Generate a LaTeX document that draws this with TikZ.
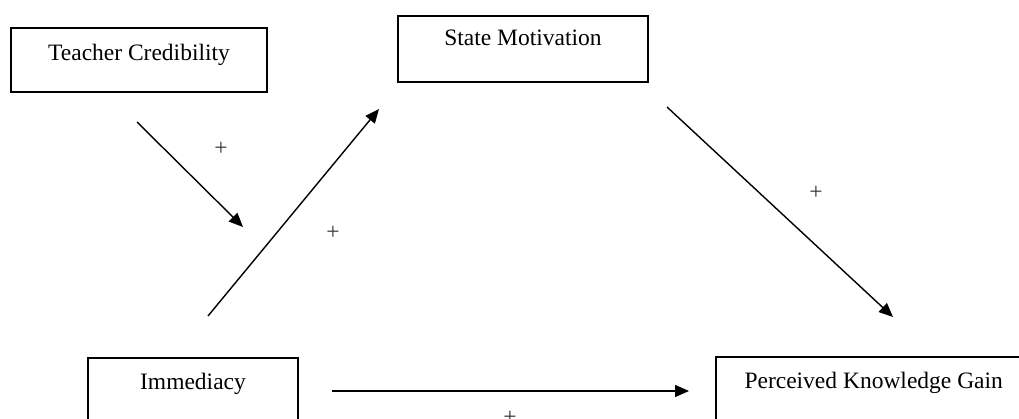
\documentclass[tikz,border=0pt]{standalone}
\usepackage{fontspec}
\setmainfont{Liberation Serif}
\usetikzlibrary{arrows.meta}
\begin{document}
\begin{tikzpicture}[x=1pt,y=-1pt,
  boxtext/.style={inner sep=0pt,anchor=north west,
    font=\fontsize{23.5}{28}\selectfont},
  box/.style={boxtext,draw=black,line width=2pt},
  conn/.style={line width=1.4pt,-{Triangle[length=14pt,width=12pt]}},
  plus/.style={font=\fontsize{23.5}{28}\selectfont,inner sep=0pt,text=black!80}]
\useasboundingbox (0,0) rectangle (1019,419);
\fill[white] (0,0) rectangle (1019,419);
\coordinate (edge) at (1019,0);
% boxes
\node[box,minimum width=256pt,text height=33pt,text depth=31pt] (tc) at (10,27) {Teacher Credibility};
\node[box,minimum width=250pt,text height=30pt,text depth=36pt] (sm) at (397,15) {State Motivation};
\node[box,minimum width=210pt,text height=31pt,text depth=60pt] (imm) at (87,357) {Immediacy};
\node[boxtext,minimum width=315pt,text height=31pt,text depth=60pt] (pkg) at (716,357) {Perceived Knowledge Gain};
\draw[line width=2pt] (pkg.north west -| edge) -- (pkg.north west) -- (pkg.south west);
% connector endpoints
\coordinate (a1) at (137,122);
\coordinate (a2) at (243,227);
\coordinate (b1) at (208,316);
\coordinate (b2) at (379,109);
\coordinate (c1) at (667,107);
\coordinate (c2) at (893,317);
\coordinate (d1) at (332,391);
\coordinate (d2) at (689,391);
\draw[conn] (a1) -- (a2);
\draw[conn] (b1) -- (b2);
\draw[conn] (c1) -- (c2);
\draw[conn] (d1) -- (d2);
% labels
\node[plus] (p1) at (221,149) {+};
\node[plus] (p2) at (333,233) {+};
\node[plus] (p3) at (816,193) {+};
\node[plus] (p4) at (510,418) {+};
\end{tikzpicture}
\end{document}
